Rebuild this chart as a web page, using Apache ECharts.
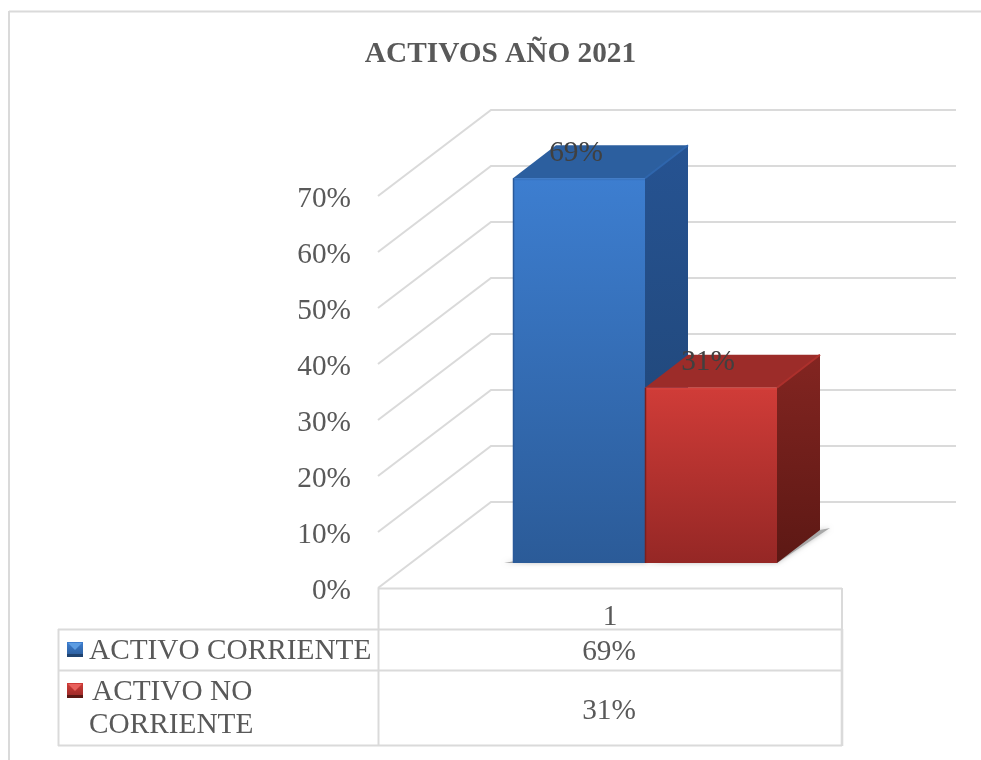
<!DOCTYPE html>
<html>
<head>
<meta charset="utf-8">
<style>
  html, body { margin: 0; padding: 0; background: #fff; }
  #main { width: 981px; height: 760px; }
</style>
<script src="https://cdn.jsdelivr.net/npm/echarts@6/dist/echarts.min.js"></script>
</head>
<body>
<div id="main"></div>
<script>
var titleText = 'ACTIVOS AÑO 2021';
var categories = ['1'];
var yTicks = [0, 10, 20, 30, 40, 50, 60, 70];
var activoCorriente = [68.7];
var activoNoCorriente = [31.3];

var FONT = '"Liberation Serif", "Times New Roman", serif';
var FONT_SIZE = 29.3;
var GRID_COLOR = '#dadada';
var TEXT_COLOR = '#595959';

// fake 3d: wall depth, where the bars stand on the floor, how deep they are
var WALL_X = 113, WALL_Y = 86;
var FLOOR_X = 35, FLOOR_Y = 25;
var BAR_X = 43, BAR_Y = 33;
var BAR_W = 132 / 464;

function vgrad(a, b) {
  return new echarts.graphic.LinearGradient(0, 0, 0, 1, [
    { offset: 0, color: a },
    { offset: 1, color: b }
  ]);
}

var blue = {
  front: ['#3d7ed0', '#2b5b98'], side: ['#265392', '#1f4370'], top: '#2c5f9f',
  edge: '#3a76c2', rim: '#2f66ad', dark: '#2a5a9a', key: '#5c9ce2'
};
var red = {
  front: ['#d03c38', '#952725'], side: ['#832521', '#5c1814'], top: '#9c2c29',
  edge: '#d4423d', rim: '#ad302c', dark: '#7c1f1d', key: '#e8605c'
};

function renderWalls(params, api) {
  var cs = params.coordSys;
  var p = api.coord([0, api.value(1)]);
  var x0 = cs.x, x1 = cs.x + WALL_X, x2 = cs.x + cs.width + WALL_X + 1;
  var y0 = p[1], y1 = p[1] - WALL_Y;
  return {
    type: 'polyline',
    shape: { points: [[x0, y0], [x1, y1], [x2, y1]] },
    style: { fill: null, stroke: GRID_COLOR, lineWidth: 2 },
    silent: true
  };
}

function barRenderer(colors, slot, shadowL, shadowR) {
  return function (params, api) {
    var top = api.coord([api.value(0), api.value(1)]);
    var base = api.coord([api.value(0), 0]);
    var w = api.size([1, 0])[0] * BAR_W;
    var l = top[0] + FLOOR_X + slot * w;
    var r = l + w;
    var t = top[1] - FLOOR_Y;
    var b = base[1] - FLOOR_Y;
    return {
      type: 'group',
      children: [
        {
          type: 'polygon',
          shape: { points: [[l - shadowL, b], [r, b], [r + BAR_X + shadowR, b - BAR_Y - 2], [r + BAR_X, b - BAR_Y]] },
          style: { fill: '#a8a8a8', shadowBlur: 5, shadowColor: 'rgba(0,0,0,0.25)' }
        },
        {
          type: 'polygon',
          shape: { points: [[l, t], [r, t], [r + BAR_X, t - BAR_Y], [l + BAR_X, t - BAR_Y]] },
          style: { fill: colors.top }
        },
        {
          type: 'polygon',
          shape: { points: [[r, t], [r + BAR_X, t - BAR_Y], [r + BAR_X, b - BAR_Y], [r, b]] },
          style: { fill: vgrad(colors.side[0], colors.side[1]) }
        },
        {
          type: 'rect',
          shape: { x: l, y: t, width: w, height: b - t },
          style: { fill: vgrad(colors.front[0], colors.front[1]) }
        },
        {
          type: 'line',
          shape: { x1: l, y1: t + 1, x2: r, y2: t + 1 },
          style: { stroke: colors.edge, lineWidth: 2 }
        },
        {
          type: 'line',
          shape: { x1: l + 0.5, y1: t, x2: l + 0.5, y2: b },
          style: { stroke: colors.dark, lineWidth: 1.5 }
        },
        {
          type: 'line',
          shape: { x1: r, y1: t, x2: r + BAR_X, y2: t - BAR_Y },
          style: { stroke: colors.rim, lineWidth: 2 }
        },
        {
          type: 'text',
          style: {
            text: Math.round(api.value(1)) + '%',
            x: (l + r) / 2 - 3,
            y: t - 25,
            align: 'center',
            verticalAlign: 'middle',
            font: FONT_SIZE + 'px ' + FONT,
            fill: '#404040'
          }
        }
      ]
    };
  };
}

function tableLine(x1, y1, x2, y2, width) {
  return {
    type: 'line',
    shape: { x1: x1, y1: y1, x2: x2, y2: y2 },
    style: { stroke: GRID_COLOR, lineWidth: width || 2 },
    silent: true
  };
}

function tableText(str, x, y, align) {
  return {
    type: 'text',
    style: {
      text: str, x: x, y: y,
      align: align || 'left', verticalAlign: 'middle',
      font: FONT_SIZE + 'px ' + FONT, fill: TEXT_COLOR
    },
    silent: true
  };
}

function legendKey(x, y, colors) {
  return {
    type: 'group',
    children: [
      { type: 'rect', shape: { x: x, y: y, width: 16, height: 15 }, style: { fill: vgrad(colors.front[0], colors.front[1]) } },
      { type: 'polygon', shape: { points: [[x + 1, y + 1], [x + 15, y + 1], [x + 8, y + 8]] }, style: { fill: colors.key } },
      { type: 'rect', shape: { x: x, y: y + 12, width: 16, height: 3 }, style: { fill: colors.side[1] } }
    ]
  };
}

var graphicEls = [
  // chart frame, runs off the picture on the right and the bottom
  tableLine(9, 11.5, 981, 11.5, 2),
  tableLine(9, 11, 9, 760, 2),
  // data table
  tableLine(378, 588.5, 842, 588.5),
  tableLine(58, 629.5, 842, 629.5),
  tableLine(58, 670.5, 842, 670.5),
  tableLine(58, 745.5, 842, 745.5),
  tableLine(58.5, 629, 58.5, 746),
  tableLine(378.5, 588, 378.5, 746, 2),
  tableLine(842, 588, 842, 629),
  tableLine(842, 629, 842, 746, 2.6),
  legendKey(67, 642, blue),
  legendKey(67, 683, red),
  tableText('ACTIVO CORRIENTE', 89, 651),
  tableText('ACTIVO NO', 92, 692),
  tableText('CORRIENTE', 89, 725),
  tableText(Math.round(activoCorriente[0]) + '%', 609, 652, 'center'),
  tableText(Math.round(activoNoCorriente[0]) + '%', 609, 711, 'center')
];

var option = {
  animation: false,
  backgroundColor: '#fff',
  title: {
    text: titleText,
    left: 495.5,
    textAlign: 'center',
    top: 35,
    textStyle: { fontFamily: FONT, fontSize: FONT_SIZE, fontWeight: 'bold', color: TEXT_COLOR }
  },
  grid: { left: 378, right: 139, top: 196, bottom: 172 },
  xAxis: {
    type: 'category',
    data: categories,
    axisLine: { show: false },
    axisTick: { show: false },
    axisLabel: { fontFamily: FONT, fontSize: FONT_SIZE, color: TEXT_COLOR, margin: 15 }
  },
  yAxis: {
    type: 'value',
    min: 0,
    max: 70,
    interval: 10,
    axisLine: { show: false },
    axisTick: { show: false },
    splitLine: { show: false },
    axisLabel: {
      formatter: '{v|{value}%}',
      margin: 27,
      rich: {
        // labels in the reference sit a little under their tick
        v: { fontFamily: FONT, fontSize: FONT_SIZE, color: TEXT_COLOR, padding: [7, 0, 0, 0] }
      }
    }
  },
  graphic: graphicEls,
  series: [
    {
      name: 'walls',
      type: 'custom',
      renderItem: renderWalls,
      data: yTicks.map(function (v) { return [0, v]; }),
      encode: { x: 0, y: 1 },
      silent: true,
      z: 1
    },
    {
      name: 'ACTIVO CORRIENTE',
      type: 'custom',
      renderItem: barRenderer(blue, -1, 9, 0),
      data: activoCorriente.map(function (v, i) { return [i, v]; }),
      encode: { x: 0, y: 1 },
      z: 2
    },
    {
      name: 'ACTIVO NO CORRIENTE',
      type: 'custom',
      renderItem: barRenderer(red, 0, 0, 10),
      data: activoNoCorriente.map(function (v, i) { return [i, v]; }),
      encode: { x: 0, y: 1 },
      z: 3
    }
  ]
};

var chart = echarts.init(document.getElementById('main'));
chart.setOption(option);
</script>
</body>
</html>
